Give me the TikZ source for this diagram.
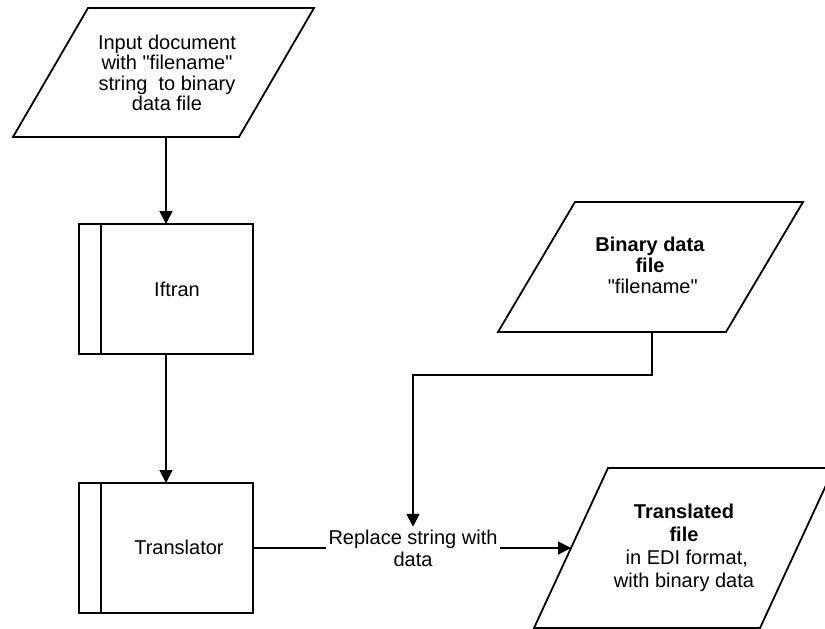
\documentclass[tikz,border=0pt]{standalone}
\usepackage{fontspec}
\setmainfont{Liberation Sans}
\usetikzlibrary{arrows.meta}
\begin{document}
\begin{tikzpicture}[x=1pt,y=-1pt,
  line width=1.8pt,
  arr/.style={-{Triangle[length=13pt,width=13pt]}},
  txt/.style={align=center,font=\fontsize{20}{21}\selectfont,inner sep=0pt},
  procbox/.style={draw,line width=1.8pt,minimum width=174pt,minimum height=130pt,inner sep=0pt,outer sep=0pt},
  shapeline/.style={draw,line width=1.8pt}]
\useasboundingbox (0,0) rectangle (825,629);
\begin{scope}
\clip (0,0) rectangle (825,629);
% input document parallelogram
\draw[shapeline] (88,8) -- (314,8) -- (239,137) -- (13,137) -- cycle;
\node[txt,font=\fontsize{20}{20.5}\selectfont] (inp) at (167,73) {Input document\\with \textquotedbl filename\textquotedbl\\string\ \ to binary\\data file};
\coordinate (inpS) at (166,137);
% Iftran box
\node[procbox] (ift) at (166,289) {};
\draw ([xshift=22pt]ift.north west) -- ([xshift=22pt]ift.south west);
\node[txt] (iftT) at (177,289) {Iftran};
% Translator box
\node[procbox] (trn) at (166,548) {};
\draw ([xshift=22pt]trn.north west) -- ([xshift=22pt]trn.south west);
\node[txt] (trnT) at (179,547) {Translator};
% binary data parallelogram
\draw[shapeline] (575,202) -- (803,202) -- (726,332) -- (498,332) -- cycle;
\node[txt] (bin) at (650,265) {\textbf{Binary data}\\\textbf{file}\\\ \textquotedbl filename\textquotedbl};
\coordinate (binS) at (652,332);
% translated file parallelogram
\draw[shapeline] (608,468) -- (834,468) -- (760,628) -- (534,628) -- cycle;
\node[txt,font=\fontsize{20}{23}\selectfont] (tf) at (684,548) {\textbf{Translated}\\\textbf{file}\\\ in EDI format,\\with binary data};
\coordinate (tfIn) at (571,548);
% label
\node[txt,fill=white,inner sep=2pt,font=\fontsize{20}{22}\selectfont] (lbl) at (413,548) {Replace string with\\data};
% connectors
\draw[arr] (inpS) -- (ift.north);
\draw[arr] (ift.south) -- (trn.north);
\draw (trn.east) -- (lbl.west);
\draw[arr] (lbl.east) -- (tfIn);
\draw[arr] (binS) -- ++(0,43) -| (lbl.north);
\end{scope}
\end{tikzpicture}
\end{document}
